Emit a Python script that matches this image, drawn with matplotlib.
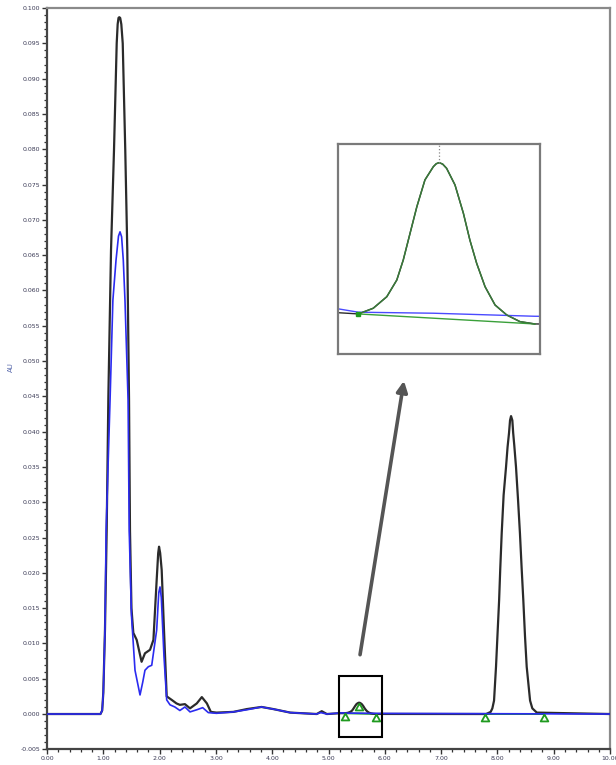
import matplotlib

matplotlib.use("Agg")
import matplotlib.pyplot as plt
import numpy as np
from matplotlib.markers import MarkerStyle
from matplotlib.patches import Rectangle
from matplotlib.ticker import FormatStrFormatter, MultipleLocator

# Traza negra (canal 1), tiempo en min y absorbancia en AU
tiempo_negro = [
    0.00, 0.95, 0.98, 1.00, 1.03, 1.06, 1.09, 1.137, 1.19, 1.238, 1.255,
    1.27, 1.284, 1.30, 1.32, 1.345, 1.39, 1.426, 1.457, 1.474, 1.50,
    1.533, 1.593, 1.68, 1.74, 1.83, 1.89, 1.948, 1.975, 1.99, 2.01, 2.037,
    2.078, 2.126, 2.215, 2.30, 2.36, 2.45, 2.54, 2.66, 2.75, 2.84, 2.91,
    3.01, 3.31, 3.55, 3.81, 4.02, 4.32, 4.79, 4.88, 4.97, 5.17, 5.232,
    5.294, 5.340, 5.382, 5.413, 5.433, 5.454, 5.475, 5.500, 5.526, 5.535,
    5.544, 5.555, 5.567, 5.593, 5.619, 5.639, 5.660, 5.686, 5.717, 5.753,
    5.794, 5.840, 7.80, 7.88, 7.91, 7.94, 7.975, 8.00, 8.03, 8.05, 8.076,
    8.11, 8.153, 8.18, 8.206, 8.224, 8.242, 8.265, 8.28, 8.30, 8.33, 8.365,
    8.40, 8.43, 8.46, 8.49, 8.52, 8.58, 8.62, 8.70, 10.00,
]
valor_negro = [
    0.0, 0.0, 0.0005, 0.003, 0.012, 0.026, 0.045, 0.0657, 0.0799, 0.095,
    0.0977, 0.0986, 0.0987, 0.0986, 0.0977, 0.095, 0.0799, 0.0657, 0.0445,
    0.026, 0.015, 0.0115, 0.0105, 0.0074, 0.0086, 0.0091, 0.0105, 0.019,
    0.0228, 0.0237, 0.0228, 0.0204, 0.0119, 0.0025, 0.002, 0.0015, 0.0013,
    0.0014, 0.0008, 0.0015, 0.0024, 0.0015, 0.0003, 0.0002, 0.0003, 0.0007,
    0.001, 0.0007, 0.0002, 0.0, 0.0004, 0.0, 0.0001, 0.000122, 0.000110,
    0.000166, 0.000280, 0.000445, 0.000643, 0.000906, 0.001168, 0.001432,
    0.001563, 0.001592, 0.001603, 0.001588, 0.001547, 0.001383, 0.001103,
    0.000840, 0.000610, 0.000379, 0.000198, 0.000100, 0.000034, 0.000011,
    0.0, 0.0003, 0.0008, 0.0019, 0.0067, 0.0110, 0.0161, 0.0205, 0.0256,
    0.0310, 0.035, 0.0378, 0.0398, 0.0416, 0.0422, 0.0416, 0.0398, 0.0380,
    0.035, 0.0305, 0.0256, 0.0207, 0.0161, 0.0110, 0.0067, 0.0019, 0.0008,
    0.0002, 0.0,
]

# Traza azul (canal 2)
tiempo_azul = [
    0.00, 0.95, 0.98, 1.00, 1.03, 1.05, 1.12, 1.17, 1.226, 1.27, 1.297,
    1.325, 1.355, 1.385, 1.44, 1.46, 1.50, 1.563, 1.652, 1.70, 1.74, 1.80,
    1.86, 1.948, 1.985, 2.007, 2.03, 2.078, 2.126, 2.185, 2.27, 2.36,
    2.45, 2.54, 2.66, 2.765, 2.865, 3.01, 3.31, 3.55, 3.81, 4.08, 4.32,
    4.79, 4.86, 4.97, 5.232, 5.294, 5.526, 5.840, 10.00,
]
valor_azul = [
    0.0, 0.0, 0.0005, 0.003, 0.012, 0.026, 0.0445, 0.0586, 0.0643, 0.0677,
    0.0683, 0.0676, 0.0643, 0.0586, 0.0445, 0.026, 0.014, 0.0062, 0.0027,
    0.0045, 0.0062, 0.0067, 0.0069, 0.0119, 0.0172, 0.018, 0.0165, 0.0081,
    0.002, 0.0013, 0.001, 0.0005, 0.001, 0.0003, 0.0006, 0.0009, 0.0002,
    0.0001, 0.0003, 0.0006, 0.001, 0.0006, 0.0002, 0.0, 0.0002, 0.0,
    0.00016, 0.000127, 0.000117, 0.000087, 0.0,
]

# Picos integrados: inicio y fin (min, AU)
pico_inicio_t = [5.294, 7.78]
pico_inicio_v = [0.000110, 0.0]
pico_fin_t = [5.840, 8.83]
pico_fin_v = [0.000011, 0.0]
apice_t = [5.544]
apice_v = [0.001603]

COLOR_NEGRO = "#2b2b2b"
COLOR_AZUL = "#2b2bf0"
COLOR_VERDE = "#1f9a1f"
COLOR_VERDE_OSC = "#3a7a3a"
COLOR_TEXTO = "#3a3a55"

# triangulo con el vertice en el punto, colgando hacia abajo
TRIANGULO = MarkerStyle([(0, 0), (-0.55, -1), (0.55, -1), (0, 0)])


def dibujar_marcas(ax):
    for t0, v0, t1, v1 in zip(pico_inicio_t, pico_inicio_v, pico_fin_t, pico_fin_v):
        ax.plot([t0, t1], [v0, v1], color=COLOR_VERDE, lw=1.4, zorder=2)
    kw = dict(marker=TRIANGULO, ms=10, mfc="white", mec=COLOR_VERDE, mew=1.3,
              ls="none", zorder=5)
    ax.plot(pico_inicio_t, pico_inicio_v, **kw)
    ax.plot(pico_fin_t, pico_fin_v, **kw)
    ax.plot(apice_t, apice_v, **kw)


def main():
    fig = plt.figure(figsize=(6.16, 7.65), dpi=100)
    ax = fig.add_axes([0.0763, 0.0205, 0.9140, 0.969])

    ax.plot(tiempo_negro, valor_negro, color=COLOR_NEGRO, lw=1.6, zorder=3,
            solid_joinstyle="round")
    ax.plot(tiempo_azul, valor_azul, color=COLOR_AZUL, lw=1.2, zorder=4,
            solid_joinstyle="round")
    dibujar_marcas(ax)

    ax.set_xlim(0, 10)
    ax.set_ylim(-0.005, 0.100)
    ax.xaxis.set_major_locator(MultipleLocator(1.0))
    ax.xaxis.set_minor_locator(MultipleLocator(0.2))
    ax.yaxis.set_major_locator(MultipleLocator(0.005))
    ax.yaxis.set_minor_locator(MultipleLocator(0.001))
    ax.xaxis.set_major_formatter(FormatStrFormatter("%.2f"))
    ax.yaxis.set_major_formatter(FormatStrFormatter("%.3f"))
    ax.tick_params(which="major", length=3.5, width=1.0, labelsize=4.5,
                   labelcolor=COLOR_TEXTO, pad=1.5, color="#333333")
    ax.tick_params(which="minor", length=2.2, width=0.9, color="#333333")
    ax.set_ylabel("AU", fontsize=5, color="#5566aa")
    ax.yaxis.set_label_coords(-0.058, 0.515)

    for lado in ["left", "bottom"]:
        ax.spines[lado].set_color("#444444")
        ax.spines[lado].set_linewidth(1.6)
    for lado in ["top", "right"]:
        ax.spines[lado].set_color("#8a8a8a")
        ax.spines[lado].set_linewidth(1.6)

    # recuadro sobre el pico pequeno y flecha hacia el detalle
    ax.add_patch(Rectangle((5.19, -0.0033), 0.76, 0.0087, fill=False,
                           ec="black", lw=1.5, zorder=6))
    ax.annotate("", xy=(6.34, 0.0472), xytext=(5.56, 0.0084),
                arrowprops=dict(arrowstyle="-|>", color="#555555", lw=2.6,
                                mutation_scale=16, shrinkA=0, shrinkB=0))

    # detalle ampliado del pico pequeno
    ax_in = fig.add_axes([0.5487, 0.5373, 0.3279, 0.2745])
    t_neg = np.array(tiempo_negro)
    v_neg = np.array(valor_negro)
    dentro = (t_neg >= pico_inicio_t[0]) & (t_neg <= pico_fin_t[0])
    ax_in.plot(t_neg, v_neg, color=COLOR_NEGRO, lw=1.0)
    ax_in.plot(tiempo_azul, valor_azul, color="#4a4aff", lw=1.0)
    ax_in.plot([pico_inicio_t[0], pico_fin_t[0]], [pico_inicio_v[0], pico_fin_v[0]],
               color="#3aa03a", lw=1.0)
    ax_in.plot(t_neg[dentro], v_neg[dentro], color=COLOR_VERDE_OSC, lw=1.1,
               solid_joinstyle="round")
    ax_in.plot(pico_inicio_t[:1], pico_inicio_v[:1], "s", ms=2.5,
               color=COLOR_VERDE)
    y_sup = 0.001787
    ax_in.vlines(apice_t, apice_v, y_sup, colors="#888888", lw=0.9,
                 linestyles=":")
    ax_in.set_xlim(5.231, 5.856)
    ax_in.set_ylim(-0.000285, y_sup)
    ax_in.set_xticks([])
    ax_in.set_yticks([])
    for lado in ax_in.spines.values():
        lado.set_color("#7a7a7a")
        lado.set_linewidth(1.6)

    fig.savefig("out.png", dpi=100)
    plt.close(fig)


if __name__ == "__main__":
    main()
